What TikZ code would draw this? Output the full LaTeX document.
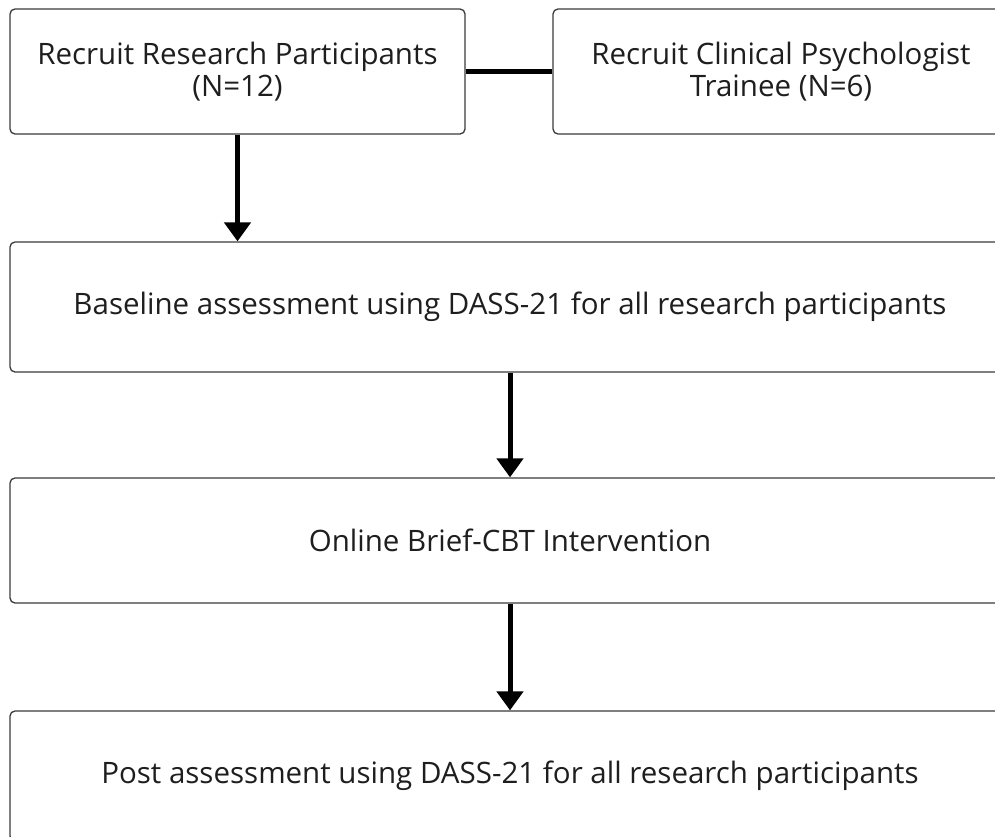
\documentclass[tikz,border=0pt]{standalone}
\usepackage{fontspec}
\setmainfont{Open Sans}
\usetikzlibrary{arrows.meta}
\definecolor{boxline}{HTML}{3A3A3A}
\definecolor{boxtext}{HTML}{1E1E1E}
\tikzstyle{process} = [
    rectangle,
    rounded corners=5pt,
    line width=1.3pt,
    draw=boxline,
    text=boxtext,
    align=center,
    font=\fontsize{29.5}{32}\selectfont
]
\tikzstyle{arrow} = [line width=5pt,-{Triangle[width=26pt,length=19pt]}]

\begin{document}
\begin{tikzpicture}[x=1pt,y=-1pt]

\useasboundingbox (0,0) rectangle (995,836);
\clip (0,0) rectangle (995,836);

\node (recruit) [process, minimum width=455pt, minimum height=125pt]
at (237.5,71.5) {Recruit Research Participants\\(N=12)};

\node (trainee) [process, minimum width=456pt, minimum height=125pt]
at (781,71.5) {Recruit Clinical Psychologist\\Trainee (N=6)};

\node (baseline) [process, minimum width=1000pt, minimum height=130pt]
at (510,307) {Baseline assessment using DASS-21 for all research participants};

\node (online) [process, minimum width=1000pt, minimum height=125pt]
at (510,540.5) {Online Brief-CBT Intervention};

\node (post) [process, minimum width=1000pt, minimum height=130pt]
at (510,776) {Post assessment using DASS-21 for all research participants};

\draw [line width=5pt] (recruit) -- (trainee);
\draw [arrow] (recruit.south) -- (recruit.south |- baseline.north);
\draw [arrow] (baseline) -- (online);
\draw [arrow] (online) -- (post);

\end{tikzpicture}
\end{document}
